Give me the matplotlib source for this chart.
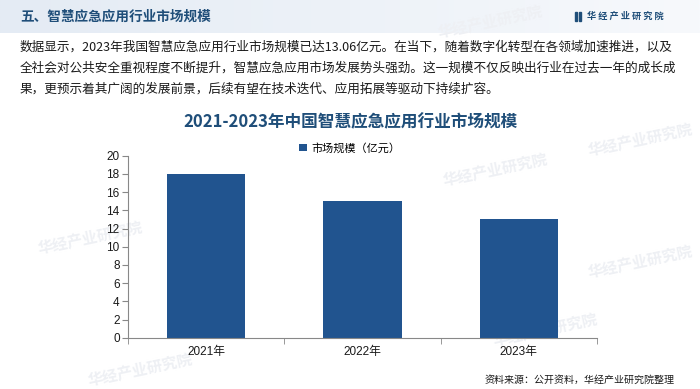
import matplotlib
matplotlib.use("Agg")
import matplotlib.pyplot as plt
import numpy as np
from matplotlib.patches import Rectangle
from matplotlib.colors import LinearSegmentedColormap

plt.rcParams['font.family'] = ['Noto Sans CJK SC', 'DejaVu Sans']

categories = ["2021年", "2022年", "2023年"]
values = [18.0, 15.05, 13.06]
y_ticks = [0, 2, 4, 6, 8, 10, 12, 14, 16, 18, 20]
series_name = "市场规模（亿元）"
header_title = "五、智慧应急应用行业市场规模"
chart_title = "2021-2023年中国智慧应急应用行业市场规模"
brand = "华 经 产 业 研 究 院"
para_lines = [
    "数据显示，2023年我国智慧应急应用行业市场规模已达13.06亿元。在当下，随着数字化转型在各领域加速推进，以及",
    "全社会对公共安全重视程度不断提升，智慧应急应用市场发展势头强劲。这一规模不仅反映出行业在过去一年的成长成",
    "果，更预示着其广阔的发展前景，后续有望在技术迭代、应用拓展等驱动下持续扩容。",
]
source = "资料来源：公开资料，华经产业研究院整理"

W, H = 700, 389
fig = plt.figure(figsize=(7.0, 3.89), dpi=100)
fig.patch.set_facecolor("white")

def fx(px):
    return px / W

def fy(py):
    return 1 - py / H

# header band gradient
bg = fig.add_axes([0, fy(33), 1, 33 / H])
bg.set_zorder(-2)
grad = np.linspace(0, 1, 256).reshape(1, -1)
cm = LinearSegmentedColormap.from_list("hdr", ["#e4ebf4", "#edf2f8", "#f7f9fc"])
bg.imshow(grad, aspect="auto", cmap=cm, extent=[0, 1, 0, 1])
bg.axis("off")

# faint watermarks
wm_color = "#eef0f4"
for (x, y) in [(490, 22), (90, 238), (495, 170), (545, 330), (140, 370), (640, 262), (640, 140)]:
    fig.text(fx(x), fy(y), "华经产业研究院", fontsize=11, color=wm_color, rotation=12,
             ha="center", va="center", fontweight="bold", zorder=-1)

fig.text(fx(20), fy(17), header_title, fontsize=9.8, fontweight="bold", color="#1f4e79",
         ha="left", va="center")

# brand logo
fig.patches.append(Rectangle((fx(575), fy(21)), 2.2 / W, 9 / H, transform=fig.transFigure,
                             color="#1f4e79", zorder=3))
fig.patches.append(Rectangle((fx(578.5), fy(21)), 2.2 / W, 9 / H, transform=fig.transFigure,
                             color="#1f4e79", zorder=3))
fig.text(fx(587), fy(16.5), brand, fontsize=6.6, fontweight="bold", color="#1f4e79",
         ha="left", va="center")

for i, line in enumerate(para_lines):
    fig.text(fx(20), fy(47 + 21 * i), line, fontsize=9.1, color="#1a1a1a", ha="left", va="center")

fig.text(fx(350), fy(122), chart_title, fontsize=12, fontweight="bold", color="#1f4e79",
         ha="center", va="center")

ax = fig.add_axes([fx(128), fy(337.7), (597 - 128) / W, (337.7 - 155.7) / H])
ax.set_zorder(2)
ax.set_facecolor("none")
x = np.arange(len(categories))
bar_color = "#21548f"
ax.bar(x, values, width=0.5, color=bar_color, label=series_name, zorder=2)
ax.set_xlim(-0.5, len(categories) - 0.5)
ax.set_ylim(0, 20)
ax.set_yticks(y_ticks)
ax.set_yticklabels([str(t) for t in y_ticks], fontfamily=["Liberation Sans", "Noto Sans CJK SC"],
                   fontsize=8.5, color="#1a1a1a")
ax.set_xticks(x)
ax.set_xticklabels(categories, fontfamily=["Liberation Sans", "Noto Sans CJK SC"], fontsize=8.5,
                   color="#1a1a1a")
ax.tick_params(axis="x", length=0, pad=6)
ax.set_xticks(np.arange(-0.5, len(categories)), minor=True)
ax.tick_params(axis="x", which="minor", length=4, color="#888888", direction="out")
ax.tick_params(axis="y", length=4, color="#888888", direction="out", pad=2)
for s in ["top", "right"]:
    ax.spines[s].set_visible(False)
for s in ["left", "bottom"]:
    ax.spines[s].set_color("#888888")
    ax.spines[s].set_linewidth(0.8)

leg = fig.legend(loc="center", bbox_to_anchor=(fx(350), fy(148)), frameon=False,
                 prop={"size": 8}, handlelength=0.7, handleheight=0.7, handletextpad=0.4)

fig.text(fx(675), fy(380), source, fontsize=7.2, color="#1a1a1a", ha="right", va="center")

fig.savefig("out.png", dpi=100)
